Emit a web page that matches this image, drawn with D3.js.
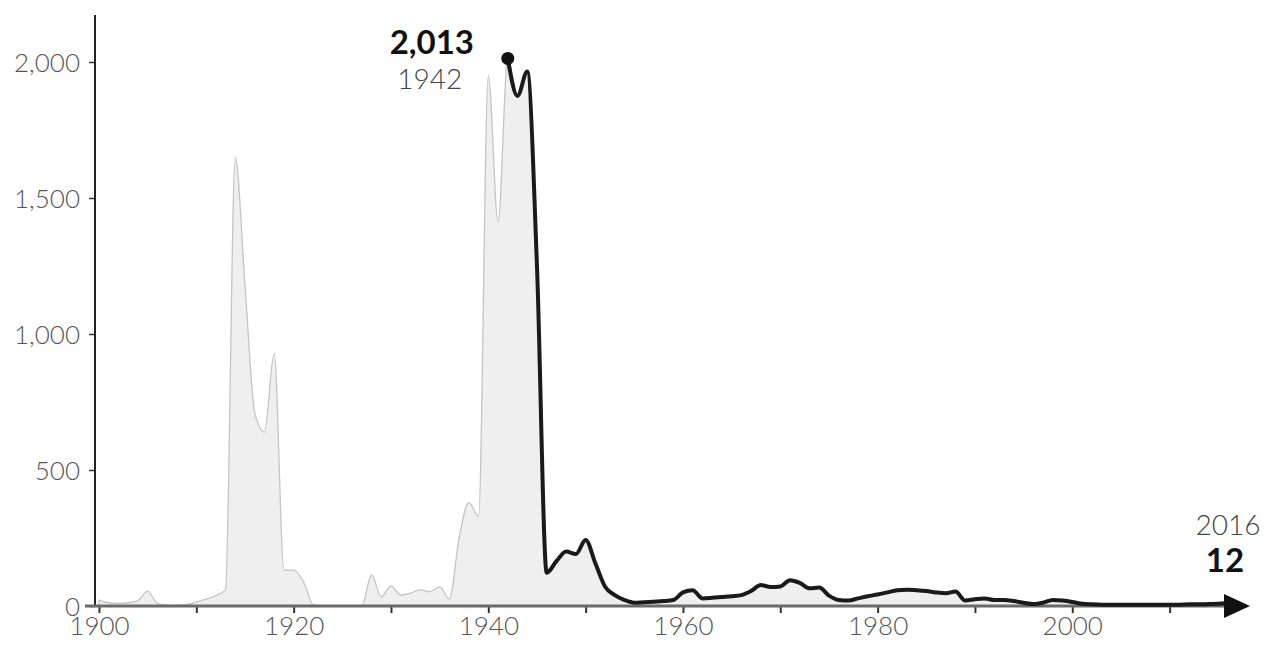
<!DOCTYPE html>
<html>
<head>
<meta charset="utf-8">
<script src="https://cdn.jsdelivr.net/npm/d3@7"></script>
<style>
  html, body { margin: 0; padding: 0; background: #fff; }
  svg { display: block; font-family: Lato, "Open Sans", sans-serif; }
</style>
</head>
<body>
<svg id="chart" width="1271" height="647"></svg>
<script>
// ---- data ----
const firstYear = 1900;
const lastYear = 2016;
const values = [
  22, 12, 10, 12, 20, 55, 10, 3, 2, 5,            // 1900-1909
  15, 25, 38, 60, 1650, 1180, 710, 640, 930, 132, // 1910-1919
  132, 90, 5, 0, 0, 0, 0, 0, 114, 34,             // 1920-1929
  74, 40, 47, 59, 53, 70, 26, 250, 380, 330,      // 1930-1939
  1950, 1410, 2013, 1875, 1965, 1250, 122, 165, 200, 191, // 1940-1949
  243, 157, 71, 40, 22, 12, 14, 16, 18, 22,       // 1950-1959
  50, 58, 28, 30, 33, 36, 40, 55, 77, 70,         // 1960-1969
  72, 95, 85, 65, 68, 38, 22, 20, 28, 36,         // 1970-1979
  42, 50, 58, 60, 58, 55, 50, 47, 53, 20,         // 1980-1989
  25, 28, 22, 22, 18, 12, 7, 12, 22, 20,          // 1990-1999
  15, 8, 6, 5, 5, 5, 5, 5, 5, 5,                  // 2000-2009
  5, 5, 6, 6, 7, 8, 12                            // 2010-2016
];
const years = d3.range(firstYear, lastYear + 1);
const highlightFrom = 1942;
const peakYear = 1942;
const peakValue = 2013;
const endValue = 12;
const xMinorTicks = [1900, 1910, 1920, 1930, 1940, 1950, 1960, 1970, 1980, 1990, 2000, 2010];
const xTickLabels = [1900, 1920, 1940, 1960, 1980, 2000];
const yTicks = [0, 500, 1000, 1500, 2000];

const data = years.map((yr, i) => ({ year: yr, value: values[i] }));

// ---- layout ----
const svg = d3.select("#chart");
const x = d3.scaleLinear().domain([firstYear, lastYear]).range([99, 1228]);
const y = d3.scaleLinear().domain([0, 2000]).range([606, 62]);
const axisX = 95;
const axisEnd = 1250;

const curve = d3.curveMonotoneX;

// gray area (full history)
const area = d3.area()
  .x(d => x(d.year)).y0(y(0)).y1(d => y(d.value)).curve(curve);
svg.append("path").datum(data)
  .attr("d", area)
  .attr("fill", "#efefef")
  .attr("stroke", "#c4c4c4")
  .attr("stroke-width", 1.3);

// y axis
const yAxis = d3.axisLeft(y).tickValues(yTicks).tickSize(6).tickPadding(9)
  .tickFormat(d3.format(","));
const gy = svg.append("g").attr("transform", `translate(${axisX},0)`).call(yAxis);
gy.select(".domain").remove();
gy.selectAll(".tick line").attr("stroke", "#333").attr("stroke-width", 1.5);
gy.selectAll(".tick text")
  .attr("fill", "#555").style("font-size", "26px").style("font-weight", 300)
  .style("font-family", "Lato, sans-serif").attr("dy", "0.36em");
svg.append("line")
  .attr("x1", axisX).attr("x2", axisX)
  .attr("y1", 15).attr("y2", y(0))
  .attr("stroke", "#222").attr("stroke-width", 2);

// x axis
const xAxis = d3.axisBottom(x).tickValues(xMinorTicks).tickSize(7).tickPadding(4)
  .tickFormat(d => xTickLabels.includes(d) ? d : "");
const gx = svg.append("g").attr("transform", `translate(0,${y(0)})`).call(xAxis);
gx.select(".domain").remove();
gx.selectAll(".tick line").attr("stroke", "#333").attr("stroke-width", 2);
gx.selectAll(".tick text")
  .attr("fill", "#555").style("font-size", "26px").style("font-weight", 300)
  .style("font-family", "Lato, sans-serif");
svg.append("line")
  .attr("x1", axisX - 10).attr("x2", axisEnd - 20)
  .attr("y1", y(0)).attr("y2", y(0))
  .attr("stroke", "#6a6a6a").attr("stroke-width", 3);

// highlighted black line
const line = d3.line().x(d => x(d.year)).y(d => y(d.value)).curve(curve);
svg.append("path").datum(data.filter(d => d.year >= highlightFrom))
  .attr("d", line)
  .attr("fill", "none")
  .attr("stroke", "#1a1a1a")
  .attr("stroke-width", 4)
  .attr("stroke-linejoin", "round");

// arrow head
svg.append("path")
  .attr("d", `M${axisEnd - 26},${y(0) - 12} L${axisEnd},${y(0)} L${axisEnd - 26},${y(0) + 12} Z`)
  .attr("fill", "#111");

// peak dot + labels
svg.append("circle")
  .attr("cx", x(peakYear)).attr("cy", y(peakValue)).attr("r", 6.5)
  .attr("fill", "#111");
svg.append("text")
  .attr("x", x(peakYear) - 76).attr("y", y(peakValue) - 4)
  .attr("text-anchor", "middle")
  .style("font-size", "33px").style("font-weight", 700).attr("fill", "#111")
  .text(d3.format(",")(peakValue));
svg.append("text")
  .attr("x", x(peakYear) - 78).attr("y", y(peakValue) + 31)
  .attr("text-anchor", "middle")
  .style("font-size", "28px").style("font-weight", 300).attr("fill", "#444")
  .text(peakYear);

// end labels
svg.append("text")
  .attr("x", x(lastYear)).attr("y", y(endValue) - 68)
  .attr("text-anchor", "middle")
  .style("font-size", "28px").style("font-weight", 300).attr("fill", "#444")
  .text(lastYear);
svg.append("text")
  .attr("x", x(lastYear) - 3).attr("y", y(endValue) - 31)
  .attr("text-anchor", "middle")
  .style("font-size", "33px").style("font-weight", 700).attr("fill", "#111")
  .text(endValue);
</script>
</body>
</html>
